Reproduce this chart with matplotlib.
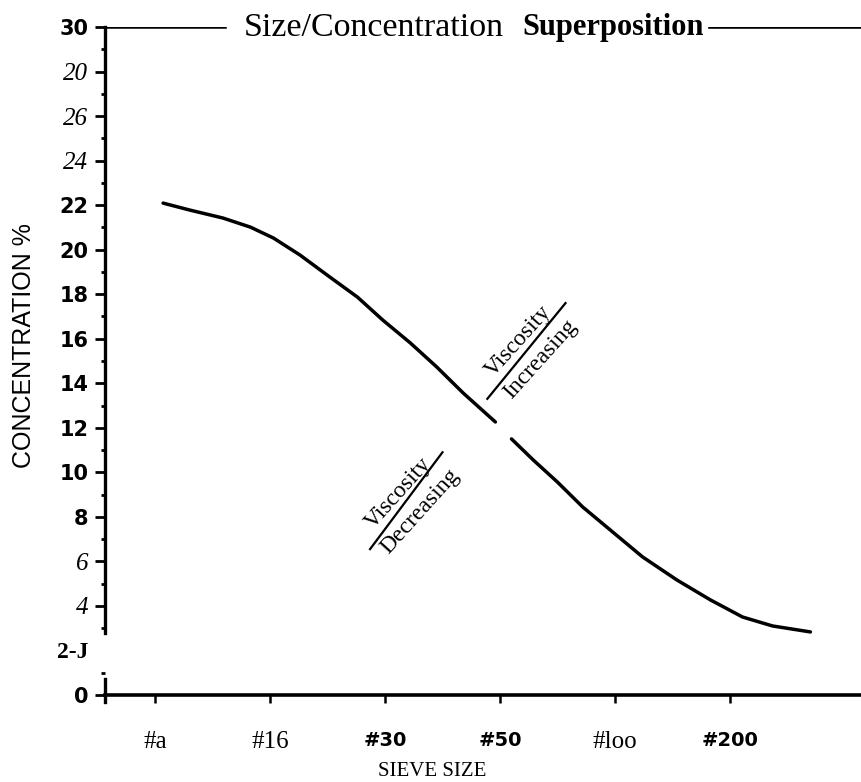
import matplotlib.pyplot as plt
import numpy as np

# sieve sizes (categories on x)
sieves = ["#a", "#16", "#30", "#50", "#loo", "#200"]
sieve_bold = [False, False, True, True, False, True]

# concentration curve (split where the curve is broken)
x_upper = [0.07, 0.30, 0.59, 0.83, 1.03, 1.26, 1.52, 1.76, 1.98, 2.22, 2.45, 2.68, 2.96]
c_upper = [22.09, 21.78, 21.42, 21.01, 20.52, 19.76, 18.77, 17.87, 16.84, 15.81, 14.73, 13.56, 12.26]
x_lower = [3.10, 3.29, 3.50, 3.72, 3.98, 4.24, 4.54, 4.83, 5.11, 5.37, 5.70]
c_lower = [11.50, 10.55, 9.56, 8.44, 7.32, 6.20, 5.16, 4.27, 3.50, 3.10, 2.83]

# y tick labels as printed
yvals = list(range(0, 31, 2))
ylabels = ["0", "2-J", "4", "6", "8", "10", "12", "14", "16", "18", "20", "22", "24", "26", "20", "30"]
ystyle = ["b", "s", "i", "i", "b", "b", "b", "b", "b", "b", "b", "b", "i", "i", "i", "b"]

fig = plt.figure(figsize=(8.61, 7.82), dpi=100)
ax = fig.add_axes([0.122, 0.1113, 0.878, 0.8542])

xl = (-0.435, 6.14)
ax.set_xlim(*xl)
ax.set_ylim(0, 30)

ax.plot(x_upper, c_upper, color="black", lw=2.5, solid_capstyle="round", solid_joinstyle="round")
ax.plot(x_lower, c_lower, color="black", lw=2.5, solid_capstyle="round", solid_joinstyle="round")

# spines
for s in ["top", "right"]:
    ax.spines[s].set_visible(False)
ax.spines["bottom"].set_linewidth(2.6)
ax.spines["left"].set_linewidth(2.4)
ax.spines["left"].set_bounds(2.8, 30)
ax.plot([xl[0], xl[0]], [-0.3, 0.7], color="black", lw=2.4, clip_on=False)

# broken top line around the title
ax.axhline(30, xmin=0, xmax=0.159, color="black", lw=1.8)
ax.axhline(30, xmin=0.80, xmax=1, color="black", lw=2.6)

# y ticks
ax.set_yticks(yvals)
ax.set_yticklabels(ylabels)
ax.set_yticks(np.arange(1, 30, 2), minor=True)
ax.tick_params(axis="y", which="major", direction="out", length=7, width=2, pad=5)
ax.tick_params(axis="y", which="minor", direction="out", length=3, width=2)
ax.yaxis.get_major_ticks()[1].tick1line.set_visible(False)
for lab, st in zip(ax.get_yticklabels(), ystyle):
    if st == "b":
        lab.set_fontfamily("DejaVu Sans")
        lab.set_fontweight("bold")
        lab.set_fontsize(15)
    elif st == "i":
        lab.set_fontfamily("Liberation Serif")
        lab.set_fontstyle("italic")
        lab.set_fontsize(18)
    else:
        lab.set_fontfamily("Liberation Serif")
        lab.set_fontweight("bold")
        lab.set_fontsize(17)

# x ticks
ax.set_xticks(range(len(sieves)))
ax.set_xticklabels(sieves)
ax.tick_params(axis="x", direction="out", length=6, width=1.8, pad=20)
for lab, b in zip(ax.get_xticklabels(), sieve_bold):
    if b:
        lab.set_fontfamily("DejaVu Sans")
        lab.set_fontweight("bold")
        lab.set_fontsize(14)
    else:
        lab.set_fontfamily("Liberation Serif")
        lab.set_fontsize(18)

# labels and title
fig.text(432 / 861, 1 - 772 / 782, "SIEVE SIZE", family="Liberation Serif",
         fontsize=15, ha="center", va="center")
fig.text(24 / 861, 1 - 346 / 782, "CONCENTRATION %", family="Liberation Sans",
         fontsize=18, rotation=90, ha="center", va="center")
fig.text(504 / 861, 1 - 28 / 782, "Size/Concentration", family="Liberation Serif",
         fontsize=24.5, ha="right", va="center")
fig.text(522 / 861, 1 - 28 / 782, "Superposition", family="Liberation Serif",
         fontsize=22, fontweight="bold", ha="left", va="center")

# viscosity notes
def note(cx, cy, top, bottom, dx, dy):
    ang = 48
    fig.text((cx - dx) / 861, 1 - (cy - dy) / 782, top, family="Liberation Serif",
             fontsize=17, rotation=ang, rotation_mode="anchor", ha="center", va="center")
    fig.text((cx + dx) / 861, 1 - (cy + dy) / 782, bottom, family="Liberation Serif",
             fontsize=17, rotation=ang, rotation_mode="anchor", ha="center", va="center")

note(529, 350, "Viscosity", "Increasing", 11, 9)
ax.plot([2.89, 3.57], [13.3, 17.6], color="black", lw=1.6)
note(409, 502, "Viscosity", "Decreasing", 11, 9)
ax.plot([1.87, 2.5], [6.55, 10.9], color="black", lw=1.6)

fig.savefig("out.png", dpi=100)
